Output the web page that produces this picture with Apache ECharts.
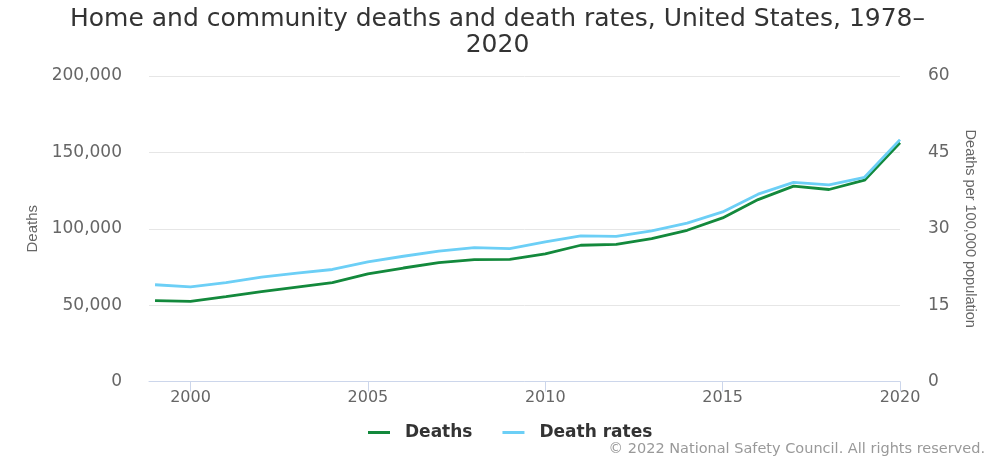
<!DOCTYPE html>
<html>
<head>
<meta charset="utf-8">
<script src="https://cdn.jsdelivr.net/npm/echarts@6/dist/echarts.min.js"></script>
<style>
html,body{margin:0;padding:0;background:#fff;}
#chart{width:995px;height:457px;}
</style>
</head>
<body>
<div id="chart"></div>
<script>
const years = [1999,2000,2001,2002,2003,2004,2005,2006,2007,2008,2009,2010,2011,2012,2013,2014,2015,2016,2017,2018,2019,2020];
const deaths = [52900,52500,55500,58800,61800,64800,70500,74300,77800,79800,80000,83500,89200,89800,93600,99000,107100,119100,127900,125700,131800,156300];
const deathRates = [19.0,18.6,19.4,20.5,21.3,22.0,23.5,24.6,25.6,26.3,26.1,27.4,28.6,28.5,29.6,31.1,33.3,36.8,39.1,38.6,40.1,47.5];
const xTickYears = [2000,2005,2010,2015,2020];
const titleText = "Home and community deaths and death rates, United States, 1978–\n2020";
const creditText = "© 2022 National Safety Council. All rights reserved.";

const chart = echarts.init(document.getElementById('chart'), null, {renderer:'canvas'});
const font = 'DejaVu Sans';
const option = {
  animation:false,
  backgroundColor:'#ffffff',
  title:{
    text:titleText,
    left:'center',
    top:1,
    textStyle:{fontFamily:font,fontSize:25,fontWeight:'normal',color:'#333333',lineHeight:26,align:'center'}
  },
  grid:{left:149,right:95,top:76,bottom:75.5},
  legend:{
    bottom:11,
    left:363,
    itemWidth:22,
    itemHeight:3,
    itemGap:30,
    icon:'rect',
    textStyle:{fontFamily:font,fontSize:17,fontWeight:'bold',color:'#333333',padding:[0,0,0,10]},
    data:['Deaths','Death rates']
  },
  graphic:[{
    type:'text',
    right:10,
    bottom:0,
    style:{text:creditText,fontFamily:font,fontSize:14.5,fill:'#999999'}
  }],
  xAxis:{
    type:'value',
    min:1998.83,
    max:2020,
    axisLine:{show:true,lineStyle:{color:'#ccd6eb',width:1}},
    axisTick:{show:true,length:10,lineStyle:{color:'#ccd6eb'},customValues:xTickYears},
    axisLabel:{customValues:xTickYears,fontFamily:font,fontSize:16,color:'#666666',margin:8,formatter:v=>String(v)},
    splitLine:{show:false}
  },
  yAxis:[{
    type:'value',
    min:0,max:200000,interval:50000,
    name:'Deaths',
    nameLocation:'middle',
    nameRotate:90,
    nameGap:107,
    nameTextStyle:{fontFamily:'Liberation Sans',fontSize:15,color:'#666666'},
    axisLine:{show:false},
    axisTick:{show:false},
    axisLabel:{fontFamily:font,fontSize:17,color:'#666666',margin:27,formatter:v=>v.toLocaleString('en-US')},
    splitLine:{lineStyle:{color:'#e6e6e6',width:1}}
  },{
    type:'value',
    min:0,max:60,interval:15,
    name:'Deaths per 100,000 population',
    nameLocation:'middle',
    nameRotate:-90,
    nameGap:62,
    nameTextStyle:{fontFamily:'Liberation Sans',fontSize:14.5,color:'#666666'},
    axisLine:{show:false},
    axisTick:{show:false},
    axisLabel:{fontFamily:font,fontSize:17,color:'#666666',margin:28},
    splitLine:{show:false}
  }],
  series:[{
    name:'Deaths',
    type:'line',
    yAxisIndex:0,
    showSymbol:false,
    color:'#13893c',
    lineStyle:{width:2.8,color:'#13893c'},
    data:years.map((y,i)=>[y,deaths[i]])
  },{
    name:'Death rates',
    type:'line',
    yAxisIndex:1,
    showSymbol:false,
    color:'#6ccff6',
    lineStyle:{width:2.8,color:'#6ccff6'},
    data:years.map((y,i)=>[y,deathRates[i]])
  }]
};
chart.setOption(option);
</script>
</body>
</html>
